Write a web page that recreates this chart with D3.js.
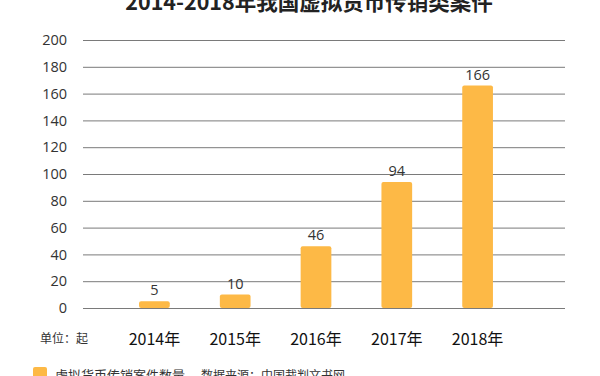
<!DOCTYPE html>
<html>
<head>
<meta charset="utf-8">
<script src="https://d3js.org/d3.v7.min.js"></script>
<style>
  body { margin: 0; background: #fff; }
  text { font-family: "Noto Sans CJK SC", "Noto Sans", sans-serif; }
</style>
</head>
<body>
<div id="chart"></div>
<script>
// data
const years = ["2014年", "2015年", "2016年", "2017年", "2018年"];
const cases = [5, 10, 46, 94, 166];
const yTicks = [0, 20, 40, 60, 80, 100, 120, 140, 160, 180, 200];

const width = 600, height = 376;
const barColor = "#fdb946";

const svg = d3.select("#chart").append("svg")
    .attr("width", width)
    .attr("height", height);

// scales
const x = d3.scaleBand()
    .domain(years)
    .range([114, 518])
    .paddingInner(0.62)
    .paddingOuter(0.31);

const y = d3.scaleLinear()
    .domain([0, 200])
    .range([308, 40]);

// title (top is clipped in the original)
svg.append("text")
    .attr("x", 309)
    .attr("y", 10)
    .attr("text-anchor", "middle")
    .attr("font-size", 21.5)
    .attr("font-weight", "bold")
    .attr("fill", "#222")
    .text("2014-2018年我国虚拟货币传销类案件");

// grid lines + y labels
const yAxis = d3.axisLeft(y)
    .tickValues(yTicks)
    .tickSize(-(565 - 83))
    .tickPadding(16);

const gy = svg.append("g")
    .attr("transform", "translate(83,0)")
    .call(yAxis);
gy.select(".domain").remove();
gy.selectAll(".tick line")
    .attr("stroke", "#7a7a7a")
    .attr("stroke-width", 1);
gy.selectAll(".tick text")
    .attr("font-size", 14.5)
    .attr("fill", "#333")
    .style("font-family", "'Open Sans', 'Noto Sans', sans-serif");

// bars
svg.selectAll(".bar")
    .data(cases)
    .enter()
    .append("rect")
    .attr("class", "bar")
    .attr("x", (d, i) => x(years[i]))
    .attr("y", d => y(d))
    .attr("width", x.bandwidth())
    .attr("height", d => y(0) - y(d))
    .attr("rx", 2)
    .attr("fill", barColor);

// value labels
svg.selectAll(".val")
    .data(cases)
    .enter()
    .append("text")
    .attr("class", "val")
    .attr("x", (d, i) => x(years[i]) + x.bandwidth() / 2)
    .attr("y", d => y(d) - 6)
    .attr("text-anchor", "middle")
    .attr("font-size", 14.5)
    .attr("fill", "#333")
    .style("font-family", "'Open Sans', 'Noto Sans', sans-serif")
    .text(d => d);

// x labels
const xAxis = d3.axisBottom(x).tickSize(0).tickPadding(0);
const gx = svg.append("g")
    .attr("transform", "translate(0,332)")
    .call(xAxis);
gx.select(".domain").remove();
gx.selectAll(".tick text")
    .attr("font-size", 16)
    .attr("fill", "#111")
    .attr("dy", "0.8em");

// unit
svg.append("text")
    .attr("x", 40)
    .attr("y", 343)
    .attr("font-size", 12)
    .attr("fill", "#333")
    .text("单位：起");

// legend
svg.append("rect")
    .attr("x", 33)
    .attr("y", 367)
    .attr("width", 14)
    .attr("height", 14)
    .attr("rx", 2)
    .attr("fill", barColor);

svg.append("text")
    .attr("x", 55)
    .attr("y", 380)
    .attr("font-size", 13)
    .attr("fill", "#333")
    .text("虚拟货币传销案件数量");

svg.append("text")
    .attr("x", 201)
    .attr("y", 380)
    .attr("font-size", 12)
    .attr("fill", "#333")
    .text("数据来源：中国裁判文书网");
</script>
</body>
</html>
